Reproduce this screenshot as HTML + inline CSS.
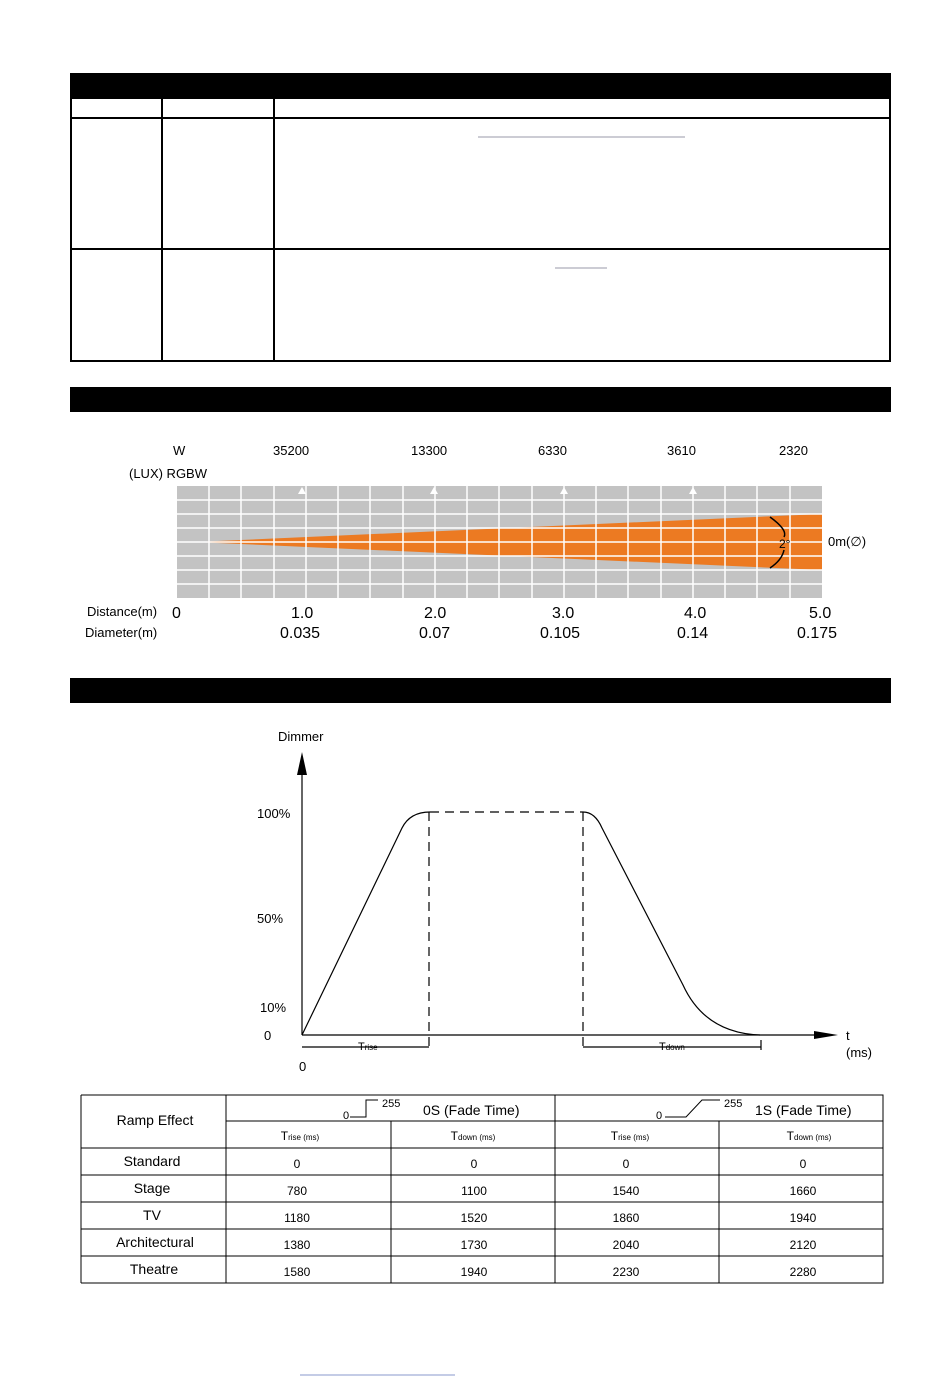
<!DOCTYPE html>
<html><head><meta charset="utf-8"><style>
body{margin:0;background:#fff;}
svg{display:block;font-family:"Liberation Sans",sans-serif;}
</style></head><body>
<svg width="950" height="1387" viewBox="0 0 950 1387">
<rect x="70" y="73" width="821" height="25" fill="#000"/>
<g stroke="#000" stroke-width="2" fill="none">
<rect x="71" y="98" width="819" height="263"/>
<line x1="71" y1="118" x2="890" y2="118"/>
<line x1="71" y1="249" x2="890" y2="249"/>
<line x1="162" y1="98" x2="162" y2="361"/>
<line x1="274" y1="98" x2="274" y2="361"/>
</g>
<line x1="478" y1="137" x2="685" y2="137" stroke="#99a" stroke-width="1"/>
<line x1="555" y1="268" x2="607" y2="268" stroke="#99a" stroke-width="1"/>
<rect x="70" y="387" width="821" height="25" fill="#000"/>
<rect x="70" y="678" width="821" height="25" fill="#000"/>

<!-- beam chart -->
<g font-size="13" fill="#000">
<text x="173" y="455">W</text>
<text x="273" y="455">35200</text>
<text x="411" y="455">13300</text>
<text x="538" y="455">6330</text>
<text x="667" y="455">3610</text>
<text x="779" y="455">2320</text>
<text x="129" y="478">(LUX) RGBW</text>
</g>
<rect x="177" y="486" width="645" height="112" fill="#c3c3c3"/>
<polygon points="195,542 822,514 822,570" fill="#ec7a22"/>
<g stroke="#fff" stroke-width="1.5">
<line x1="177" y1="500" x2="822" y2="500"/><line x1="177" y1="514" x2="822" y2="514"/>
<line x1="177" y1="528" x2="822" y2="528"/><line x1="177" y1="542" x2="822" y2="542"/>
<line x1="177" y1="556" x2="822" y2="556"/><line x1="177" y1="570" x2="822" y2="570"/>
<line x1="177" y1="584" x2="822" y2="584"/>
<line x1="209" y1="486" x2="209" y2="598"/><line x1="241" y1="486" x2="241" y2="598"/>
<line x1="274" y1="486" x2="274" y2="598"/><line x1="306" y1="486" x2="306" y2="598"/>
<line x1="338" y1="486" x2="338" y2="598"/><line x1="370" y1="486" x2="370" y2="598"/>
<line x1="403" y1="486" x2="403" y2="598"/><line x1="435" y1="486" x2="435" y2="598"/>
<line x1="467" y1="486" x2="467" y2="598"/><line x1="499" y1="486" x2="499" y2="598"/>
<line x1="532" y1="486" x2="532" y2="598"/><line x1="564" y1="486" x2="564" y2="598"/>
<line x1="596" y1="486" x2="596" y2="598"/><line x1="628" y1="486" x2="628" y2="598"/>
<line x1="661" y1="486" x2="661" y2="598"/><line x1="693" y1="486" x2="693" y2="598"/>
<line x1="725" y1="486" x2="725" y2="598"/><line x1="757" y1="486" x2="757" y2="598"/>
<line x1="790" y1="486" x2="790" y2="598"/>
</g>
<g fill="#fff"><polygon points="302,487 306,494 298,494"/><polygon points="434,487 438,494 430,494"/><polygon points="564,487 568,494 560,494"/><polygon points="693,487 697,494 689,494"/></g>
<path d="M770,517 Q788,530 784,537 M784,550 Q782,560 770,568" stroke="#000" stroke-width="1.5" fill="none"/>
<text x="779" y="548" font-size="12">2°</text>
<text x="828" y="546" font-size="13">0m(∅)</text>
<g font-size="13"><text x="87" y="616">Distance(m)</text><text x="85" y="637">Diameter(m)</text></g>
<g font-size="16"><text x="172" y="618">0</text><text x="291" y="618">1.0</text><text x="424" y="618">2.0</text><text x="552" y="618">3.0</text><text x="684" y="618">4.0</text><text x="809" y="618">5.0</text>
<text x="280" y="638">0.035</text><text x="419" y="638">0.07</text><text x="540" y="638">0.105</text><text x="677" y="638">0.14</text><text x="797" y="638">0.175</text></g>

<!-- dimmer chart -->
<g font-size="13"><text x="278" y="741">Dimmer</text><text x="257" y="818">100%</text><text x="257" y="923">50%</text><text x="260" y="1012">10%</text><text x="264" y="1040">0</text><text x="299" y="1071">0</text><text x="846" y="1040">t</text><text x="846" y="1057">(ms)</text></g>
<g stroke="#000" stroke-width="1.2" fill="none">
<line x1="302" y1="1035" x2="302" y2="760"/>
<line x1="302" y1="1035" x2="825" y2="1035"/>
<path d="M302,1035 L402,828 Q410,812 430,812 M583,812 Q595,812 602,828 L683,985 Q705,1033 760,1035"/>
<path d="M430,812 L583,812 M429,812 L429,1048 M583,812 L583,1048" stroke-dasharray="9,6"/>
<line x1="302" y1="1047" x2="429" y2="1047"/><line x1="583" y1="1047" x2="761" y2="1047"/>
<line x1="761" y1="1040" x2="761" y2="1050"/>
</g>
<polygon points="302,752 297,775 307,775" fill="#000"/>
<polygon points="838,1035 814,1031 814,1039" fill="#000"/>
<g font-size="11"><text x="358" y="1050">T<tspan font-size="8">rise</tspan></text><text x="659" y="1050">T<tspan font-size="8">down</tspan></text></g>

<!-- ramp table -->
<g stroke="#000" stroke-width="1" fill="none">
<rect x="226" y="1095" width="657" height="188"/>
<line x1="81" y1="1095" x2="226" y2="1095"/><line x1="81" y1="1095" x2="81" y2="1283"/><line x1="81" y1="1283" x2="226" y2="1283"/>
<line x1="81" y1="1148" x2="883" y2="1148"/>
<line x1="226" y1="1121" x2="883" y2="1121"/>
<line x1="81" y1="1175" x2="883" y2="1175"/><line x1="81" y1="1202" x2="883" y2="1202"/><line x1="81" y1="1229" x2="883" y2="1229"/><line x1="81" y1="1256" x2="883" y2="1256"/>
<line x1="391" y1="1121" x2="391" y2="1283"/><line x1="555" y1="1095" x2="555" y2="1283"/><line x1="719" y1="1121" x2="719" y2="1283"/>
<path d="M350,1117 L366,1117 L366,1100 L378,1100"/>
<path d="M665,1117 L686,1117 L702,1100 L720,1100"/>
</g>
<g font-size="14" text-anchor="middle">
<text x="155" y="1125">Ramp Effect</text>
<text x="152" y="1166">Standard</text><text x="152" y="1193">Stage</text><text x="152" y="1220">TV</text><text x="155" y="1247">Architectural</text><text x="154" y="1274">Theatre</text>
</g>
<g font-size="11"><text x="343" y="1119">0</text><text x="382" y="1107">255</text><text x="656" y="1119">0</text><text x="724" y="1107">255</text></g>
<g font-size="14"><text x="423" y="1115">0S  (Fade Time)</text><text x="755" y="1115">1S  (Fade Time)</text></g>
<g font-size="12" text-anchor="middle">
<text x="300" y="1140">T<tspan font-size="8">rise (ms)</tspan></text><text x="473" y="1140">T<tspan font-size="8">down (ms)</tspan></text><text x="630" y="1140">T<tspan font-size="8">rise (ms)</tspan></text><text x="809" y="1140">T<tspan font-size="8">down (ms)</tspan></text>
<text x="297" y="1168">0</text><text x="474" y="1168">0</text><text x="626" y="1168">0</text><text x="803" y="1168">0</text>
<text x="297" y="1195">780</text><text x="474" y="1195">1100</text><text x="626" y="1195">1540</text><text x="803" y="1195">1660</text>
<text x="297" y="1222">1180</text><text x="474" y="1222">1520</text><text x="626" y="1222">1860</text><text x="803" y="1222">1940</text>
<text x="297" y="1249">1380</text><text x="474" y="1249">1730</text><text x="626" y="1249">2040</text><text x="803" y="1249">2120</text>
<text x="297" y="1276">1580</text><text x="474" y="1276">1940</text><text x="626" y="1276">2230</text><text x="803" y="1276">2280</text>
</g>
<line x1="300" y1="1375" x2="455" y2="1375" stroke="#8899cc" stroke-width="1"/>
</svg>
</body></html>
